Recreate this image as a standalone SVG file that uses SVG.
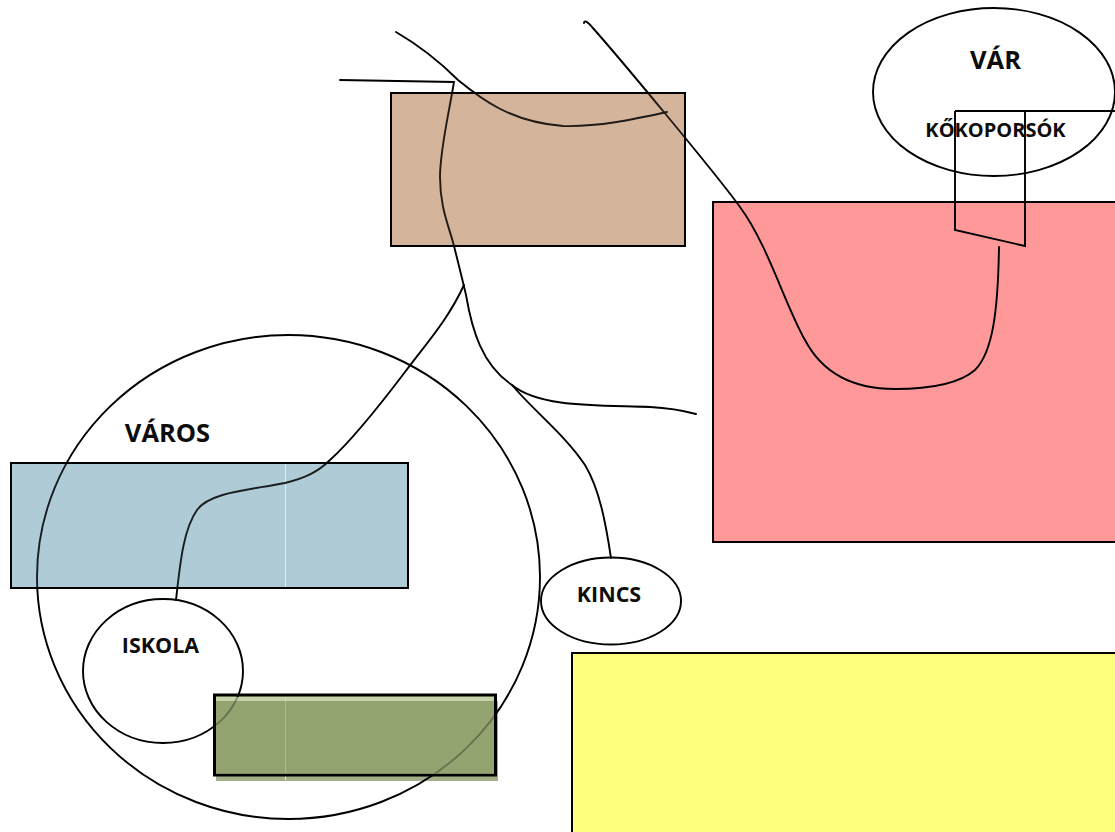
<svg xmlns="http://www.w3.org/2000/svg" width="1115" height="832" viewBox="0 0 1115 832">
<style>
.o{fill:none;stroke:#000;stroke-width:1.900}
.b{fill:none;stroke:#000;stroke-width:1.900;stroke-linecap:round}
.r{stroke:#000;stroke-width:2}
.t{font-family:"Open Sans","Noto Sans",sans-serif;font-weight:700;fill:#0d0d0d;text-anchor:middle}
.s{font-size:20px}
.m{font-size:21.500px}
.l{font-size:25.500px}
.v{stroke:#fff;stroke-width:1;opacity:.8}
</style>
<rect width="1115" height="832" fill="#fff"/>
<g id="pink"><rect class="r" x="713" y="202" width="410" height="340" fill="#FF9999"/></g>
<g id="yellow"><rect class="r" x="572" y="653" width="560" height="190" fill="#FFFF80"/></g>
<g id="tan"><rect class="r" x="391" y="93" width="294" height="153" fill="#D4B49C"/></g>
<g id="blue"><rect class="r" x="11" y="463" width="397" height="125" fill="#AECCD6"/><line class="v" x1="285.500" y1="464" x2="285.500" y2="587"/></g>
<g id="olive">
<rect x="216" y="701" width="282" height="80" fill="#A3AF8A"/>
<rect x="214" y="695" width="281" height="80" fill="#94A471"/>
<rect x="215" y="696" width="279" height="5" fill="#C5D1A8"/>
<line class="v" x1="285.500" y1="697" x2="285.500" y2="780"/>
<rect x="214.500" y="695" width="281" height="80" fill="none" stroke="#000" stroke-width="3"/>
</g>
<g id="connectors">
<path class="b" d="M396 32C420 46 440 62 458 80C480 98 510 122 563 126C600 127 635 119 667 112"/>
<path class="b" d="M340 80L454 82C448 118 440 150 440 177C440 210 450 228 455 250C460 270 463 282 466 295C472 330 482 365 512 385C540 408 600 405 650 407C670 408 685 411 696 414"/>
<path class="b" d="M512 385C535 412 565 435 585 465C600 490 606 525 611 558"/>
<path class="b" d="M584 23C584 20 587 21 592 27C617 55 717 175 740 207C768 245 785 305 805 340C825 378 860 389 895 389C930 389 960 383 975 370C993 352 998 310 999 247"/>
<path class="b" d="M464 285C448 320 425 345 405 372C380 405 350 442 330 460C318 472 305 478 285 483C250 490 210 492 197 510C183 530 180 565 176 600"/>
<path class="o" d="M955 111H1115M955 111V230L1025 246V111"/>
</g>
<g id="varos"><ellipse class="o" cx="288.500" cy="577" rx="251.500" ry="242"/><text class="t l" x="167.500" y="442">VÁROS</text></g>
<g id="var"><ellipse class="o" cx="994" cy="92" rx="121" ry="84"/><text class="t l" x="995.500" y="69">VÁR</text></g>
<g id="kokoporsok"><text class="t s" x="995.500" y="137">KŐKOPORSÓK</text></g>
<g id="iskola"><ellipse class="o" cx="163" cy="671" rx="80" ry="72"/><text class="t m" x="160.500" y="653">ISKOLA</text></g>
<g id="kincs"><ellipse class="o" cx="611" cy="601" rx="70" ry="43.500"/><text class="t m" x="609" y="602">KINCS</text></g>
<g id="tints">
<rect x="392" y="94" width="292" height="151" fill="#D4B49C" opacity=".15"/>
<rect x="12" y="464" width="395" height="123" fill="#AECCD6" opacity=".15"/>
<rect x="216" y="701" width="278" height="73" fill="#94A471" opacity=".7"/>
<rect x="216" y="697" width="278" height="4" fill="#C5D1A8" opacity=".7"/>
</g>
</svg>
